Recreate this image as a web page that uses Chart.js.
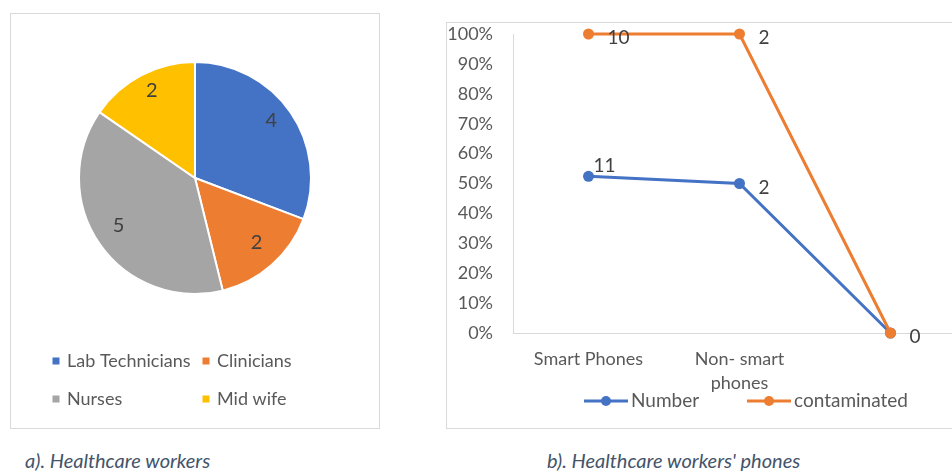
<!DOCTYPE html>
<html>
<head>
<meta charset="utf-8">
<script src="https://cdn.jsdelivr.net/npm/chart.js@4.4.0/dist/chart.umd.min.js"></script>
<style>
  html, body { margin: 0; padding: 0; background: #fff; width: 952px; height: 473px; overflow: hidden; }
  body { position: relative; }
  .panel { position: absolute; border: 1px solid #d9d9d9; box-sizing: border-box; background: #fff; }
  #pieBox { left: 10px; top: 13px; width: 370px; height: 416px; }
  #lineBox { left: 446px; top: 22px; width: 540px; height: 407px; }
  .panel canvas { position: absolute; left: 0; top: 0; }
  .caption { position: absolute; top: 448px; font-family: Lato, sans-serif; font-style: italic; font-size: 20px; color: #44546A; white-space: nowrap; }
</style>
</head>
<body>
<div class="panel" id="pieBox"><canvas id="pieChart" width="368" height="414"></canvas></div>
<div class="panel" id="lineBox"><canvas id="lineChart" width="538" height="405"></canvas></div>
<div class="caption" style="left:25px">a). Healthcare workers</div>
<div class="caption" style="left:547px">b). Healthcare workers' phones</div>
<script>
// pie: healthcare workers
const workerLabels = ['Lab Technicians', 'Clinicians', 'Nurses', 'Mid wife'];
const workerCounts = [4, 2, 5, 2];
const workerColors = ['#4472C4', '#ED7D31', '#A5A5A5', '#FFC000'];

// line: phones
const phoneLabels = ['Smart Phones', ['Non- smart', 'phones'], ''];
const numberShare = [0.524, 0.50, 0];
const numberCounts = ['11', '2', '0'];
const contaminatedShare = [1.0, 1.0, 0];
const contaminatedCounts = ['10', '2', '0'];
const yTicks = [0, 0.1, 0.2, 0.3, 0.4, 0.5, 0.6, 0.7, 0.8, 0.9, 1.0];

const FONT = 'Lato, sans-serif';
const textGray = '#595959';

const pieExtras = {
    id: 'pieExtras',
    afterDatasetsDraw(chart) {
        const c = chart.ctx;
        const arcs = chart.getDatasetMeta(0).data;
        c.save();
        c.font = '20px ' + FONT;
        c.fillStyle = '#404040';
        c.textAlign = 'center';
        c.textBaseline = 'middle';
        arcs.forEach((arc, i) => {
            const mid = (arc.startAngle + arc.endAngle) / 2;
            const r = arc.outerRadius * 0.8;
            c.fillText(String(workerCounts[i]), arc.x + Math.cos(mid) * r, arc.y + Math.sin(mid) * r - 5);
        });
        c.restore();
    },
    afterDraw(chart) {
        const c = chart.ctx;
        const cols = [45, 195];
        const rows = [347, 385];
        c.save();
        c.font = '18px ' + FONT;
        c.textBaseline = 'middle';
        workerLabels.forEach((lab, i) => {
            const x = cols[i % 2], y = rows[Math.floor(i / 2)];
            c.fillStyle = workerColors[i];
            c.fillRect(x - 3.5, y - 3.5, 7, 7);
            c.fillStyle = textGray;
            c.fillText(lab, x + 11, y);
        });
        c.restore();
    }
};

new Chart(document.getElementById('pieChart'), {
    type: 'pie',
    data: {
        labels: workerLabels,
        datasets: [{
            data: workerCounts,
            backgroundColor: workerColors,
            borderColor: '#ffffff',
            borderWidth: 2
        }]
    },
    options: {
        responsive: false,
        animation: false,
        layout: { padding: { left: 67, right: 67, top: 47, bottom: 133 } },
        plugins: { legend: { display: false }, tooltip: { enabled: false } }
    },
    plugins: [pieExtras]
});

const lineExtras = {
    id: 'lineExtras',
    afterDatasetsDraw(chart) {
        const c = chart.ctx;
        const texts = [numberCounts, contaminatedCounts];
        c.save();
        c.font = '19px ' + FONT;
        c.fillStyle = '#404040';
        c.textBaseline = 'middle';
        c.textAlign = 'left';
        chart.data.datasets.forEach((ds, d) => {
            chart.getDatasetMeta(d).data.forEach((pt, i) => {
                if (d === 0 && i === 2) return; // both series share the 0 label
                if (d === 0 && i === 0) {
                    c.fillText(texts[d][i], pt.x + 5, pt.y - 10);
                } else {
                    c.fillText(texts[d][i], pt.x + 19, pt.y + 4);
                }
            });
        });
        c.restore();
    },
    afterDraw(chart) {
        const c = chart.ctx;
        const y = 378;
        const items = [
            { x: 137, text: 'Number', color: '#4472C4' },
            { x: 300, text: 'contaminated', color: '#ED7D31' }
        ];
        c.save();
        c.font = '19px ' + FONT;
        c.textBaseline = 'middle';
        items.forEach(it => {
            c.strokeStyle = it.color;
            c.lineWidth = 3;
            c.beginPath();
            c.moveTo(it.x, y);
            c.lineTo(it.x + 44, y);
            c.stroke();
            c.fillStyle = it.color;
            c.beginPath();
            c.arc(it.x + 22, y, 5, 0, Math.PI * 2);
            c.fill();
            c.fillStyle = textGray;
            c.fillText(it.text, it.x + 47, y);
        });
        c.restore();
    }
};

new Chart(document.getElementById('lineChart'), {
    type: 'line',
    data: {
        labels: phoneLabels,
        datasets: [{
            label: 'Number',
            data: numberShare,
            borderColor: '#4472C4',
            backgroundColor: '#4472C4',
            borderWidth: 3,
            pointRadius: 5.5,
            pointBorderWidth: 0,
            order: 1
        }, {
            label: 'contaminated',
            data: contaminatedShare,
            borderColor: '#ED7D31',
            backgroundColor: '#ED7D31',
            borderWidth: 3,
            pointRadius: 5.5,
            pointBorderWidth: 0,
            order: 0
        }]
    },
    options: {
        responsive: false,
        animation: false,
        clip: false,
        layout: { padding: { left: 0, right: 19, top: 11, bottom: 15 } },
        plugins: { legend: { display: false }, tooltip: { enabled: false } },
        scales: {
            x: {
                offset: true,
                grid: { display: false, drawTicks: false },
                border: { color: '#d9d9d9', width: 1 },
                ticks: { color: textGray, font: { family: FONT, size: 18, lineHeight: 1.35 }, padding: 14, maxRotation: 0, autoSkip: false },
                afterFit(scale) { scale.height = 80; scale.paddingLeft = 0; scale.paddingRight = 0; }
            },
            y: {
                min: 0,
                max: 1,
                grid: { display: false, drawTicks: false },
                border: { color: '#d9d9d9', width: 1 },
                afterBuildTicks(scale) { scale.ticks = yTicks.map(v => ({ value: v })); },
                ticks: {
                    color: textGray,
                    font: { family: FONT, size: 18 },
                    padding: 20,
                    callback: v => Math.round(v * 100) + '%'
                },
                afterFit(scale) { scale.width = 66; scale.paddingTop = 0; scale.paddingBottom = 0; }
            }
        }
    },
    plugins: [lineExtras]
});
</script>
</body>
</html>
